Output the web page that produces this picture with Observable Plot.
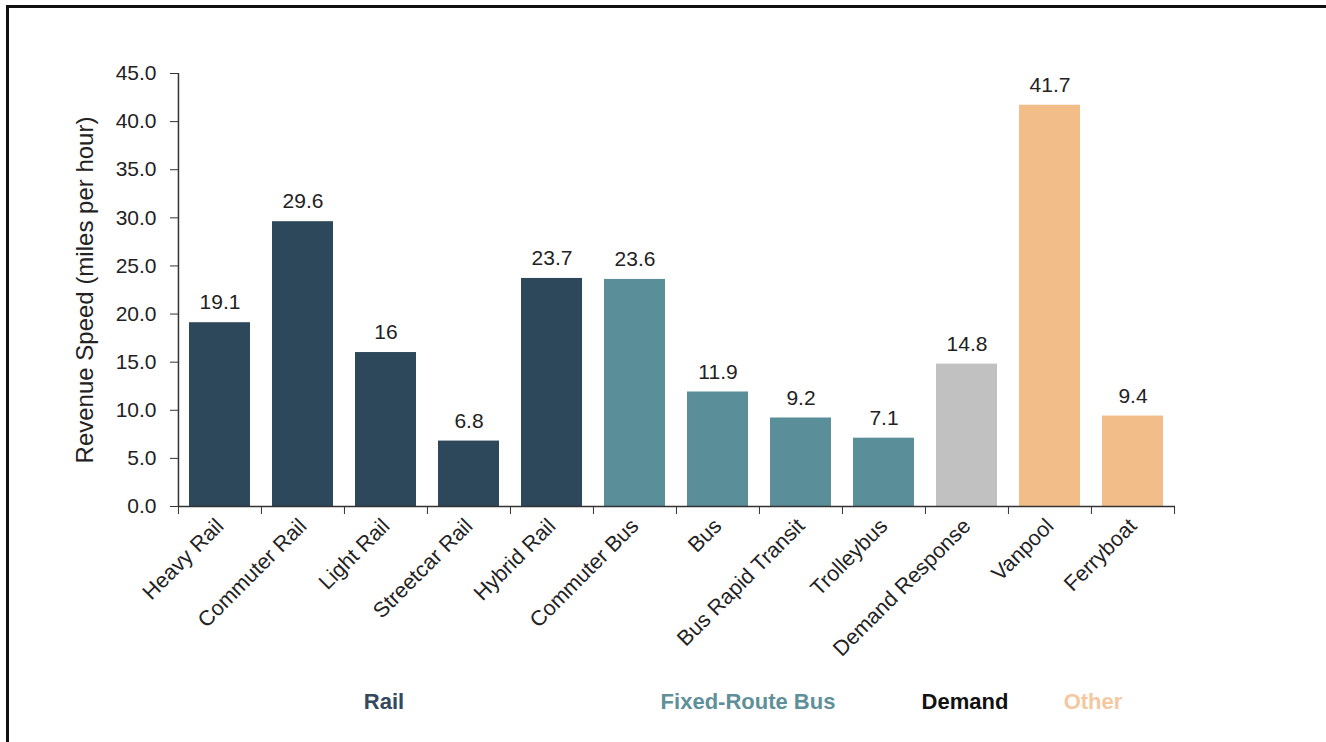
<!DOCTYPE html>
<html>
<head>
<meta charset="utf-8">
<script src="https://cdn.jsdelivr.net/npm/d3@7"></script>
<script src="https://cdn.jsdelivr.net/npm/@observablehq/plot@0.6"></script>
<style>
  html, body { margin: 0; padding: 0; background: #fff; }
  #wrap { position: relative; width: 1326px; height: 742px; overflow: hidden; }
  #border { position: absolute; left: 6px; top: 5px; right: -10px; bottom: -10px;
            border-left: 3px solid #111; border-top: 3px solid #111; pointer-events: none; }
  #chart { position: absolute; left: 0; top: 0; }
</style>
</head>
<body>
<div id="wrap"><div id="chart"></div><div id="border"></div></div>
<script>
// ---- data ----
const categories = ["Heavy Rail", "Commuter Rail", "Light Rail", "Streetcar Rail", "Hybrid Rail",
  "Commuter Bus", "Bus", "Bus Rapid Transit", "Trolleybus", "Demand Response", "Vanpool", "Ferryboat"];
const values = [19.1, 29.6, 16, 6.8, 23.7, 23.6, 11.9, 9.2, 7.1, 14.8, 41.7, 9.4];
const valueLabels = ["19.1", "29.6", "16", "6.8", "23.7", "23.6", "11.9", "9.2", "7.1", "14.8", "41.7", "9.4"];
const modes = ["Rail", "Rail", "Rail", "Rail", "Rail",
  "Fixed-Route Bus", "Fixed-Route Bus", "Fixed-Route Bus", "Fixed-Route Bus",
  "Demand", "Other", "Other"];
const groups = ["Rail", "Fixed-Route Bus", "Demand", "Other"];
const yTicks = [0, 5, 10, 15, 20, 25, 30, 35, 40, 45];
const yLabel = "Revenue Speed (miles per hour)";

// ---- styles ----
const barColors = {"Rail": "#2d475b", "Fixed-Route Bus": "#5a8e98", "Demand": "#c1c1c1", "Other": "#f2bd88"};
const groupTextColors = {"Rail": "#34495c", "Fixed-Route Bus": "#5f9099", "Demand": "#111111", "Other": "#f3c8a0"};
// where each group label sits: anchor category + pixel offset
const groupPlacement = {
  "Rail": ["Light Rail", -2],
  "Fixed-Route Bus": ["Bus", 30],
  "Demand": ["Demand Response", -2],
  "Other": ["Vanpool", 43]
};

const rows = categories.map((c, i) => ({category: c, value: values[i], label: valueLabels[i], mode: modes[i]}));

const W = 1326, H = 742;
const mL = 178, mR = 151, mT = 73, mB = 236;
const halfStep = (W - mL - mR) / categories.length / 2;
const font = "'Liberation Sans', Arial, sans-serif";

const groupMarks = groups.map(g => Plot.text([g], {
  x: () => groupPlacement[g][0], text: d => d, dx: groupPlacement[g][1],
  frameAnchor: "bottom", lineAnchor: "middle", dy: 195,
  fontSize: 22, fontWeight: "bold", fill: groupTextColors[g]
}));

const plot = Plot.plot({
  width: W,
  height: H,
  marginLeft: mL,
  marginRight: mR,
  marginTop: mT,
  marginBottom: mB,
  style: {fontFamily: font, background: "transparent", color: "#222"},
  x: {domain: categories, paddingInner: 0.26, paddingOuter: 0.13, axis: null},
  y: {domain: [0, 45], axis: null},
  marks: [
    Plot.barY(rows, {x: "category", y: "value", fill: d => barColors[d.mode]}),
    Plot.text(rows, {x: "category", y: "value", text: "label", dy: -20, fontSize: 21, fill: "#222"}),
    // axes
    Plot.axisY(yTicks, {tickFormat: d3.format(".1f"), tickSize: 8, tickPadding: 14, fontSize: 21,
      stroke: "#333", fill: "#222", label: null}),
    Plot.text([yLabel], {text: d => d, frameAnchor: "left", textAnchor: "middle", lineAnchor: "middle",
      dx: -93, rotate: -90, fontSize: 24, fill: "#222"}),
    Plot.ruleX([categories[0]], {x: d => d, dx: -halfStep, stroke: "#333", strokeWidth: 1.5}),
    Plot.ruleY([0], {stroke: "#333", strokeWidth: 1.5}),
    Plot.axisX(categories, {tickSize: 8, dx: -halfStep, tickFormat: () => "", stroke: "#333", label: null}),
    Plot.axisX([categories[categories.length - 1]], {tickSize: 8, dx: halfStep, tickFormat: () => "", stroke: "#333", label: null}),
    Plot.axisX(categories, {tickSize: 0, tickPadding: 16, tickRotate: -45, fontSize: 21.5, fill: "#222", label: null}),
    ...groupMarks
  ]
});
document.getElementById("chart").appendChild(plot);
</script>
</body>
</html>
